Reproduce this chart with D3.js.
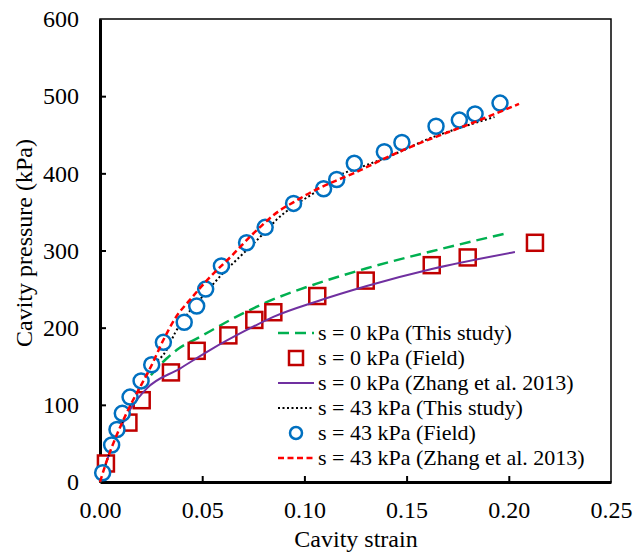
<!DOCTYPE html>
<html>
<head>
<meta charset="utf-8">
<script src="https://cdn.jsdelivr.net/npm/d3@7"></script>
<style>
  svg text, svg .tick text, text { font-family: 'Liberation Serif', 'Times New Roman', Tinos !important; }
</style>
</head>
<body style="margin:0">
<svg id="chart" width="644" height="553"></svg>
<script>
// ---- Data ----
const xTicks = [0, 0.05, 0.10, 0.15, 0.20, 0.25];
const yTicks = [0, 100, 200, 300, 400, 500, 600];

// s = 0 kPa (This study) – green dashed
const s0Study = [[0,0],[0.005,40],[0.01,72],[0.015,100],[0.02,122],[0.0245,137],[0.0326,160],[0.0375,171],[0.0489,188],[0.0652,212],[0.0815,233],[0.106,257],[0.1305,277],[0.1623,299],[0.2,323]];
// s = 0 kPa (Field) – red squares
const s0Field = [[0.0029,24],[0.0139,77],[0.0204,106],[0.0347,142],[0.0473,170],[0.0628,190],[0.0755,210],[0.0848,220],[0.1063,241],[0.130,261],[0.1623,281],[0.1799,291],[0.2128,310]];
// s = 0 kPa (Zhang et al. 2013) – purple solid
const s0Zhang = [[0,0],[0.005,40],[0.01,70],[0.015,95],[0.0228,121],[0.0391,147],[0.0538,171],[0.0718,197],[0.0848,214],[0.106,234],[0.1305,254],[0.1623,276],[0.203,298]];
// s = 43 kPa (This study) – black dotted
const s43Study = [[0,0],[0.005,40],[0.01,72],[0.015,100],[0.02,125],[0.025,148],[0.0326,171],[0.0367,193],[0.0432,219],[0.05,240],[0.06,270],[0.07,296],[0.08,322],[0.0864,340],[0.095,358],[0.105,375],[0.1174,398],[0.1256,406],[0.1468,428],[0.16,444],[0.175,458],[0.193,473]];
// s = 43 kPa (Field) – blue circles
const s43Field = [[0.0013,12],[0.0057,48],[0.0083,68],[0.0109,89],[0.0147,110],[0.0201,131],[0.0253,152],[0.031,181],[0.0412,207],[0.0473,228],[0.0517,250],[0.0594,280],[0.0717,310],[0.0808,330],[0.0947,361],[0.1094,380],[0.1158,392],[0.1244,413],[0.1391,428],[0.1477,440],[0.1644,461],[0.1758,469],[0.1835,477],[0.1957,491]];
// s = 43 kPa (Zhang et al. 2013) – red dashed
const s43Zhang = [[0,0],[0.003,25],[0.01,72],[0.015,100],[0.02,125],[0.025,150],[0.031,184],[0.037,213],[0.044,236],[0.054,266],[0.064,292],[0.075,322],[0.088,352],[0.095,363],[0.105,378],[0.115,390],[0.124,400],[0.139,419],[0.15,432],[0.165,448],[0.18,463],[0.195,479],[0.205,490]];

const legendLabels = [
  "s = 0 kPa (This study)",
  "s = 0 kPa (Field)",
  "s = 0 kPa (Zhang et al. 2013)",
  "s = 43 kPa (This study)",
  "s = 43 kPa (Field)",
  "s = 43 kPa (Zhang et al. 2013)"
];

// ---- Layout ----
const svg = d3.select("#chart");
const L = 100, R = 611, T = 19, B = 482;
const x = d3.scaleLinear().domain([0, 0.25]).range([L, R]);
const y = d3.scaleLinear().domain([0, 600]).range([B, T]);

const line = d3.line().x(d => x(d[0])).y(d => y(d[1])).curve(d3.curveMonotoneX);

// frame
svg.append("rect").attr("x", L).attr("y", T).attr("width", R - L).attr("height", B - T)
  .attr("fill", "none").attr("stroke", "#000").attr("stroke-width", 1.5);

// axes
const xAxis = svg.append("g").attr("transform", `translate(0,${B})`)
  .call(d3.axisBottom(x).tickValues(xTicks).tickSizeInner(-6).tickSizeOuter(0).tickPadding(19).tickFormat(d3.format(".2f")));
const yAxis = svg.append("g").attr("transform", `translate(${L},0)`)
  .call(d3.axisLeft(y).tickValues(yTicks).tickSizeInner(-6).tickSizeOuter(0).tickPadding(21).tickFormat(d3.format("d")));
[xAxis, yAxis].forEach(g => {
  g.attr("font-family", "Liberation Serif").attr("font-size", 24);
  g.select(".domain").attr("stroke", "#000").attr("stroke-width", 3);
  g.selectAll(".tick line").attr("stroke", "#000").attr("stroke-width", 2);
  g.selectAll(".tick text").style("font-size", "24px").attr("fill", "#000");
});
xAxis.selectAll(".tick line").filter(d => d === 0 || d === 0.25).remove();
yAxis.selectAll(".tick line").filter(d => d === 0 || d === 600).remove();

// axis titles
svg.append("text").attr("x", 356).attr("y", 547).attr("text-anchor", "middle")
  .style("font-size", "24px").text("Cavity strain");
svg.append("text").attr("transform", "translate(32,243) rotate(-90)").attr("text-anchor", "middle")
  .style("font-size", "24px").text("Cavity pressure (kPa)");

// styles
const styles = [
  { type: "line", data: s0Study, color: "#00B050", width: 2.5, dash: "11,6" },
  { type: "square", data: s0Field, color: "#C00000" },
  { type: "line", data: s0Zhang, color: "#7030A0", width: 2, dash: null },
  { type: "line", data: s43Study, color: "#000000", width: 2, dash: "2,2.5" },
  { type: "circle", data: s43Field, color: "#0070C0" },
  { type: "line", data: s43Zhang, color: "#FF0000", width: 2.5, dash: "6,3.5" }
];

function drawMarker(g, type, color, cx, cy) {
  if (type === "square") {
    g.append("rect").attr("x", cx - 8).attr("y", cy - 8).attr("width", 16).attr("height", 16)
      .attr("fill", "#fff").attr("stroke", color).attr("stroke-width", 2.5);
  } else {
    g.append("circle").attr("cx", cx).attr("cy", cy).attr("r", 7.5)
      .attr("fill", "#fff").attr("stroke", color).attr("stroke-width", 2.5);
  }
}

const plot = svg.append("g");
styles.forEach(s => {
  if (s.type === "line") {
    plot.append("path").datum(s.data).attr("d", line).attr("fill", "none")
      .attr("stroke", s.color).attr("stroke-width", s.width)
      .attr("stroke-dasharray", s.dash);
  } else {
    s.data.forEach(d => drawMarker(plot, s.type, s.color, x(d[0]), y(d[1])));
  }
});

// legend
const lg = svg.append("g");
const rowY = [333, 358, 383, 408, 433, 458];
styles.forEach((s, i) => {
  const yy = rowY[i];
  if (s.type === "line") {
    lg.append("line").attr("x1", 278).attr("x2", 314).attr("y1", yy).attr("y2", yy)
      .attr("stroke", s.color).attr("stroke-width", s.width).attr("stroke-dasharray", s.dash);
  } else if (s.type === "square") {
    lg.append("rect").attr("x", 289).attr("y", yy - 7).attr("width", 14).attr("height", 14)
      .attr("fill", "#fff").attr("stroke", s.color).attr("stroke-width", 2.5);
  } else {
    lg.append("circle").attr("cx", 296).attr("cy", yy).attr("r", 6)
      .attr("fill", "#fff").attr("stroke", s.color).attr("stroke-width", 2.5);
  }
  lg.append("text").attr("x", 318).attr("y", yy + 7).style("font-size", "22px").text(legendLabels[i]);
});
</script>
</body>
</html>
